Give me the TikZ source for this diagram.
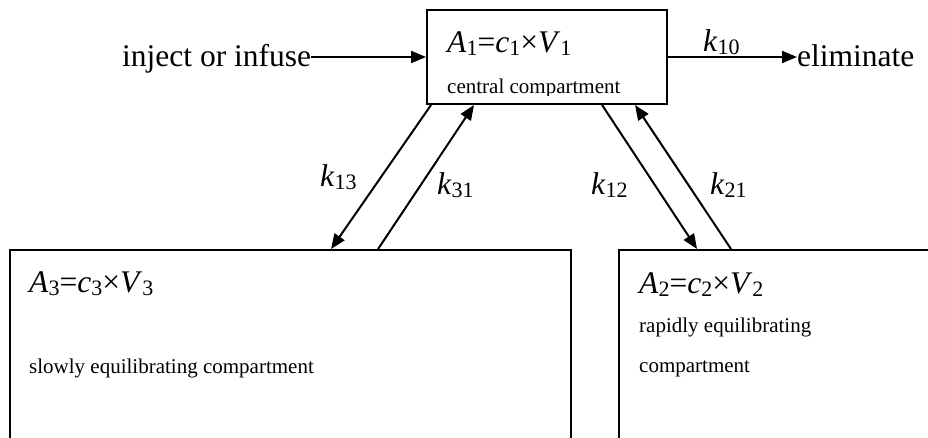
\documentclass[tikz,border=0pt]{standalone}
\usepackage{fontspec}
\setmainfont{Liberation Serif}
\usetikzlibrary{arrows.meta}
\newcommand\sbx[1]{\raisebox{-3pt}{\fontsize{22}{22}\selectfont #1}}
\newcommand\bigf{\fontsize{31.5}{36}\selectfont}
\newcommand\smallf{\fontsize{21}{24}\selectfont}
\begin{document}
\begin{tikzpicture}[x=1pt,y=-1pt,
  box/.style={draw,line width=1.9pt,inner sep=0pt},
  lbl/.style={inner sep=0pt,anchor=base west},
  conn/.style={line width=2pt,-{Triangle[length=15pt,width=12pt]}}]
\useasboundingbox (0,0) rectangle (928,438);
\fill[white] (0,0) rectangle (928,438);
\clip (0,0) rectangle (928,438);
% boxes
\node[box,minimum width=240pt,minimum height=94pt] (central) at (547,57) {};
\node[box,minimum width=561pt,minimum height=210pt] (slow) at (290.5,355) {};
\node[box,minimum width=361pt,minimum height=210pt] (rapid) at (799.5,355) {};
% texts in boxes
\node[lbl] (a1) at (447,53) {\bigf\textit{A}\sbx{1}=\textit{c}\sbx{1}×\textit{V}\sbx{1}};
\begin{scope}
  \clip (427,0) rectangle (667,95.5);
  \node[lbl] (cc) at (447,94) {\smallf central compartment};
\end{scope}
\node[lbl] (a3) at (29,292) {\bigf\textit{A}\sbx{3}=\textit{c}\sbx{3}×\textit{V}\sbx{3}};
\node[lbl] (slowtxt) at (29,373) {\smallf slowly equilibrating compartment};
\node[lbl] (a2) at (639,293) {\bigf\textit{A}\sbx{2}=\textit{c}\sbx{2}×\textit{V}\sbx{2}};
\node[lbl] (rt1) at (639,332) {\smallf rapidly equilibrating};
\node[lbl] (rt2) at (639,372) {\smallf compartment};
% outer texts
\node[lbl] (inject) at (122,67) {\bigf inject or infuse};
\node[lbl] (elim) at (797,67) {\bigf eliminate};
% rate labels
\node[lbl] (k10) at (703,52) {\bigf\textit{k}\sbx{10}};
\node[lbl] (k13) at (320,187) {\bigf\textit{k}\sbx{13}};
\node[lbl] (k31) at (437,195) {\bigf\textit{k}\sbx{31}};
\node[lbl] (k12) at (591,195) {\bigf\textit{k}\sbx{12}};
\node[lbl] (k21) at (710,195) {\bigf\textit{k}\sbx{21}};
% connectors
\draw[conn] (inject.east |- central.west) -- (central.west);
\draw[conn] (central.east) -- (central.east -| elim.west);
\draw[conn] ([xshift=5pt]central.south west) -- ([xshift=322pt]slow.north west);
\draw[conn] ([xshift=369pt]slow.north west) -- ([xshift=48pt]central.south west);
\draw[conn] ([xshift=176pt]central.south west) -- ([xshift=79pt]rapid.north west);
\draw[conn] ([xshift=113pt]rapid.north west) -- ([xshift=209pt]central.south west);
\end{tikzpicture}
\end{document}
